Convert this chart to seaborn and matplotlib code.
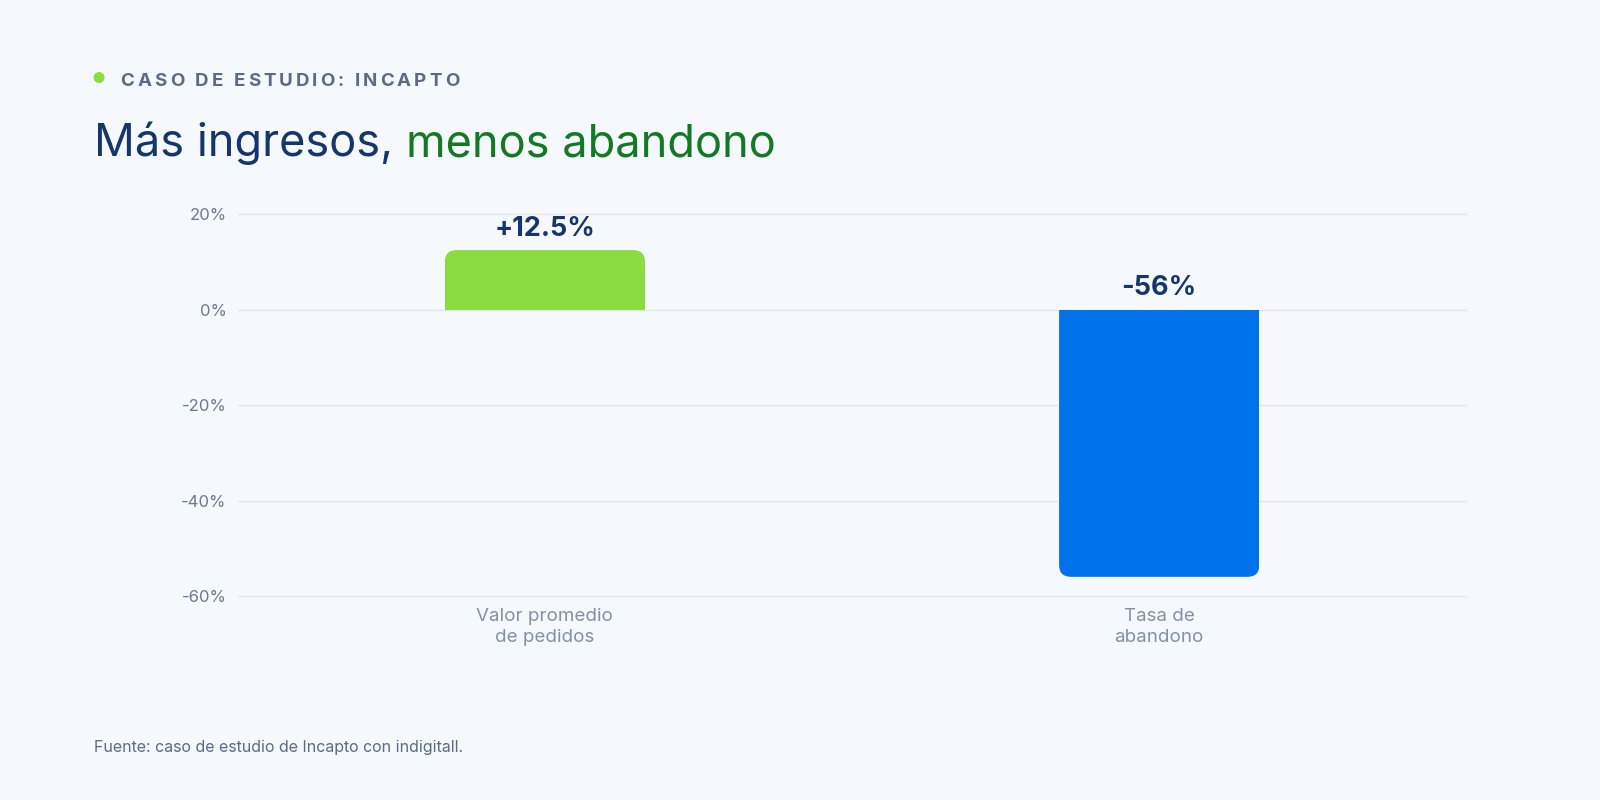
import matplotlib
matplotlib.use("Agg")
import matplotlib.pyplot as plt
import seaborn as sns
from matplotlib.patches import FancyBboxPatch, Circle

categories = ["Valor promedio\nde pedidos", "Tasa de\nabandono"]
values = [12.5, -56]
value_labels = ["+12.5%", "-56%"]
bar_colors = ["#8cdc40", "#0073ea"]
y_ticks = [20, 0, -20, -40, -60]

BG = "#f5f8fc"
NAVY = "#14366b"
GREEN_TXT = "#137a23"
GRAY = "#5b6b85"

sns.set_theme(style="white")
plt.rcParams["font.family"] = ["Inter", "DejaVu Sans"]

fig = plt.figure(figsize=(16, 8), dpi=100, facecolor=BG)
ax = fig.add_axes([0.1486, 0.2551, 0.7679, 0.477])
ax.set_facecolor(BG)

sns.barplot(x=categories, y=values, hue=categories, palette=bar_colors,
            legend=False, width=0.326, saturation=1, ax=ax)

ax.set_xlim(-0.5, 1.5)
ax.set_ylim(-60, 20)
ax.set_yticks(y_ticks)
ax.set_yticklabels([f"{t}%" for t in y_ticks])
ax.tick_params(axis="y", length=0, pad=8, labelsize=12, labelcolor="#6b7a90")
ax.tick_params(axis="x", length=0, pad=9, labelsize=13.5, labelcolor="#8391a5")
for lab in ax.get_xticklabels():
    lab.set_linespacing(1.25)
for s in ax.spines.values():
    s.set_visible(False)
ax.set_xlabel("")
ax.set_ylabel("")
for t in y_ticks:
    ax.axhline(t, color="#e1e6ee", lw=1, zorder=0, clip_on=False)

# rounded ends on bars (top for positive, bottom for negative)
fig.canvas.draw()
px_x = ax.transData.transform((1, 0))[0] - ax.transData.transform((0, 0))[0]
px_y = ax.transData.transform((0, 1))[1] - ax.transData.transform((0, 0))[1]
aspect = px_x / px_y
r = 12 / px_x
ry = r * aspect
for bar, col in zip(list(ax.patches), bar_colors):
    x0, w = bar.get_x(), bar.get_width()
    y0, h = bar.get_y(), bar.get_height()
    top = max(y0, y0 + h)
    bot = min(y0, y0 + h)
    if top > 0:
        yb, hh = bot - ry, (top - bot) + ry
    else:
        yb, hh = bot, (top - bot) + ry
    fb = FancyBboxPatch((x0, yb), w, hh,
                        boxstyle=f"round,pad=0,rounding_size={r}",
                        mutation_aspect=aspect, fc=col, ec="none", zorder=3)
    ax.add_patch(fb)
    fb.set_clip_path(bar)
    bar.set_visible(False)

for i, (v, lab) in enumerate(zip(values, value_labels)):
    ax.annotate(lab, (i, max(v, 0)), xytext=(0, 6), textcoords="offset points",
                ha="center", va="bottom", fontsize=19.5, fontweight="bold",
                color=NAVY)

# header
fig.patches.append(Circle((0.0619 * 1600, 0.9031 * 800), 5.5, transform=None,
                          fc="#8cdc40", ec="none"))
renderer = fig.canvas.get_renderer()
sub = "CASO DE ESTUDIO: INCAPTO"
x = 0.0753
track = 3.0 / 1600
for ch in sub:
    t = fig.text(x, 0.8929, ch, fontsize=13.5, fontweight="bold", color=GRAY,
                 ha="left", va="baseline")
    if ch == " ":
        wpx = 4.8
    else:
        wpx = t.get_window_extent(renderer).width
    x += wpx / 1600 + track

t1 = fig.text(0.0587, 0.8048, "Más ingresos, ", fontsize=32.5, color=NAVY,
              ha="left", va="baseline")
w1 = t1.get_window_extent(renderer).width / 1600
fig.text(0.0587 + w1, 0.8048, "menos abandono", fontsize=32.5, color=GREEN_TXT,
         ha="left", va="baseline")

fig.text(0.0587, 0.06, "Fuente: caso de estudio de Incapto con indigitall.",
         fontsize=11.5, color=GRAY, ha="left", va="baseline")

fig.savefig("out.png", dpi=100, facecolor=BG)
